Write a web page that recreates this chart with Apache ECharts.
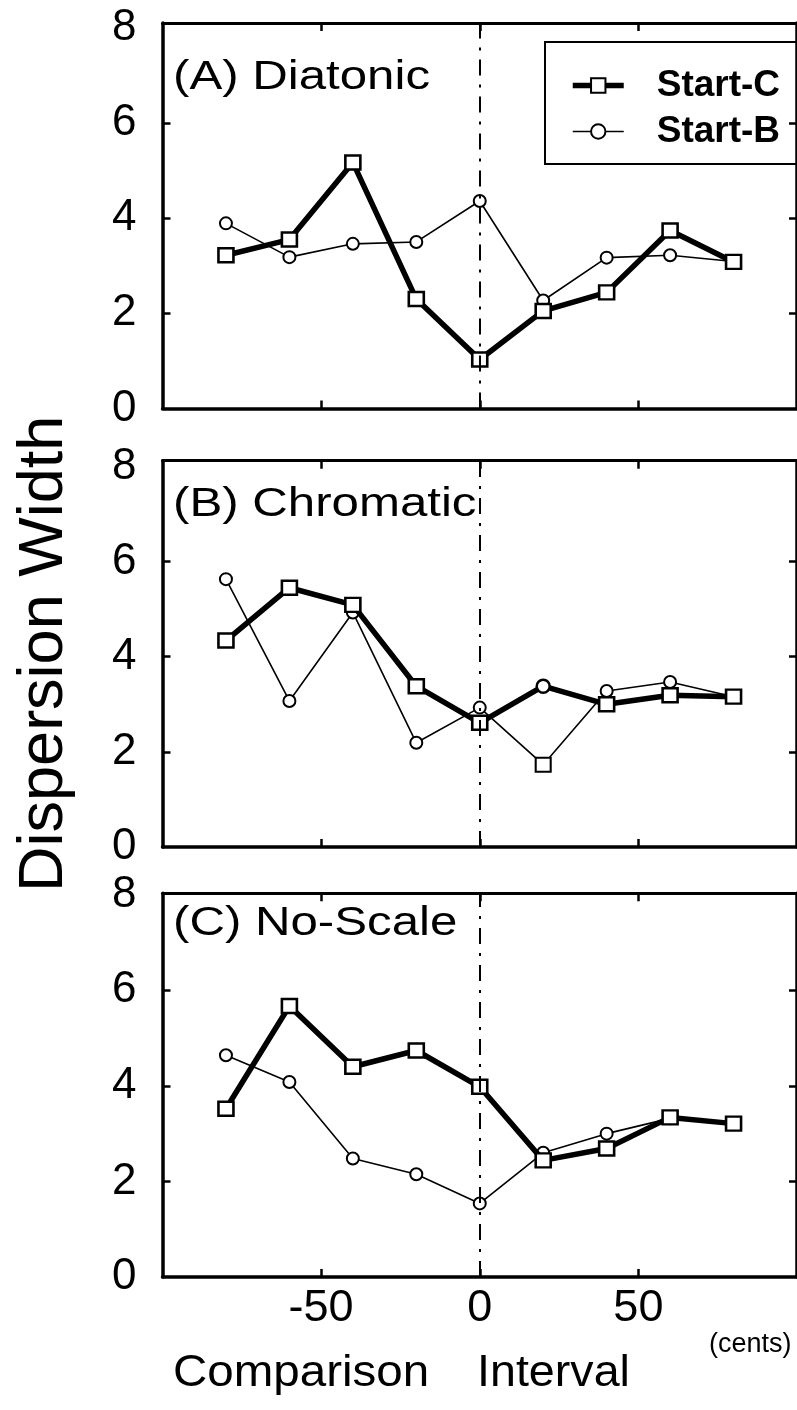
<!DOCTYPE html>
<html>
<head>
  <meta charset="utf-8">
  <title>Dispersion Width by Comparison Interval</title>
  <style>
    body {
      margin: 0;
      background-color: #ffffff;
    }
    #chart {
      width: 797px;
      height: 1410px;
    }
  </style>
</head>
<body>
  <div id="chart"></div>

  <script src="https://cdn.jsdelivr.net/npm/echarts@6.0.0/dist/echarts.min.js"></script>
  <script>
    // comparison interval (cents)
    var xCents = [-80, -60, -40, -20, 0, 20, 40, 60, 80];
    var xTicks = [-50, 0, 50];
    var yLabels = [0, 2, 4, 6, 8];
    var yTicks = [2, 4, 6];

    // dispersion width
    var diatonicC  = [3.22, 3.55, 5.17, 2.30, 1.03, 2.05, 2.44, 3.74, 3.08];
    var diatonicB  = [3.89, 3.18, 3.46, 3.50, 4.36, 2.27, 3.17, 3.22, 3.09];
    var chromaticC = [4.34, 5.45, 5.09, 3.38, 2.61, 3.38, 3.00, 3.19, 3.16];
    var chromaticB = [5.63, 3.07, 4.93, 2.19, 2.93, 1.73, 3.28, 3.47, 3.16];
    var noScaleC   = [3.52, 5.67, 4.40, 4.74, 3.98, 2.44, 2.69, 3.34, 3.21];
    var noScaleB   = [4.64, 4.08, 2.48, 2.15, 1.54, 2.60, 3.00, 3.32, 3.21];

    var panelTitles = ['(A) Diatonic', '(B) Chromatic', '(C) No-Scale'];

    var FONT = '"Liberation Sans", Arial, Helvetica, sans-serif';

    // layout of the three stacked panels
    var panels = [
      { c: diatonicC,  b: diatonicB,  top: 23,    height: 385.5, yMax: 8.1,  titleY: 78 },
      { c: chromaticC, b: chromaticB, top: 460.7, height: 386.3, yMax: 8.12, titleY: 505 },
      { c: noScaleC,   b: noScaleB,   top: 893.3, height: 383.7, yMax: 8.03, titleY: 924 }
    ];

    var grids = [], xAxes = [], yAxes = [], series = [], graphics = [];

    panels.forEach(function (p, i) {
      grids.push({ left: 162.5, right: -5.5, top: p.top, height: p.height });

      // bottom and top frame
      xAxes.push({
        gridIndex: i, type: 'value', min: -100, max: 100, interval: 50, position: 'bottom',
        axisLine: { onZero: false, lineStyle: { color: '#000', width: 3.5 } },
        axisTick: { inside: true, length: 8, customValues: xTicks, lineStyle: { color: '#000', width: 2.5 } },
        axisLabel: {
          show: i === 2, customValues: xTicks, margin: 9,
          color: '#000', fontSize: 45, fontFamily: FONT
        },
        splitLine: { show: false }
      });
      xAxes.push({
        gridIndex: i, type: 'value', min: -100, max: 100, interval: 50, position: 'top',
        axisLine: { onZero: false, lineStyle: { color: '#000', width: 3 } },
        axisTick: { inside: true, length: 8, customValues: xTicks, lineStyle: { color: '#000', width: 2.5 } },
        axisLabel: { show: false },
        splitLine: { show: false }
      });

      // left and right frame
      var yLeft = {
        gridIndex: i, type: 'value', min: 0, max: p.yMax, interval: 2, position: 'left',
        axisLine: { show: true, onZero: false, lineStyle: { color: '#000', width: 3.5 } },
        axisTick: { show: true, inside: true, length: 8, customValues: yTicks, lineStyle: { color: '#000', width: 2.5 } },
        axisLabel: { customValues: yLabels, margin: 26, color: '#000', fontSize: 44, fontFamily: FONT },
        splitLine: { show: false }
      };
      if (i === 1) {
        yLeft.name = 'Dispersion Width';
        yLeft.nameLocation = 'middle';
        yLeft.nameGap = 86;
        yLeft.nameTextStyle = { color: '#000', fontSize: 63, fontFamily: FONT };
      }
      yAxes.push(yLeft);
      yAxes.push({
        gridIndex: i, type: 'value', min: 0, max: p.yMax, interval: 2, position: 'right',
        axisLine: { show: true, onZero: false, lineStyle: { color: '#000', width: 3.5 } },
        axisTick: { show: true, inside: true, length: 8, customValues: yTicks, lineStyle: { color: '#000', width: 2.5 } },
        axisLabel: { show: false },
        splitLine: { show: false }
      });

      var dataB = xCents.map(function (x, k) { return [x, p.b[k]]; });
      var dataC = xCents.map(function (x, k) { return [x, p.c[k]]; });
      // in the chromatic panel the original figure swaps the markers at +20 cents
      if (i === 1) {
        var k20 = xCents.indexOf(20);
        dataC[k20] = { value: dataC[k20], symbol: 'circle', symbolSize: 13 };
        dataB[k20] = { value: dataB[k20], symbol: 'rect', symbolSize: [15, 14] };
      }

      series.push({
        name: 'Start-B', type: 'line', xAxisIndex: i * 2, yAxisIndex: i * 2,
        data: dataB, symbol: 'circle', symbolSize: 12, showAllSymbol: true, z: 2,
        lineStyle: { color: '#000', width: 1.6 },
        itemStyle: { color: '#fff', borderColor: '#000', borderWidth: 2 },
        markLine: {
          silent: true, symbol: 'none', label: { show: false },
          lineStyle: { color: '#000', width: 2, type: [16, 9, 3, 9] },
          data: [{ xAxis: 0 }]
        }
      });
      series.push({
        name: 'Start-C', type: 'line', xAxisIndex: i * 2, yAxisIndex: i * 2,
        data: dataC, symbol: 'rect', symbolSize: [15, 14], showAllSymbol: true, z: 3,
        lineStyle: { color: '#000', width: 5.5 },
        itemStyle: { color: '#fff', borderColor: '#000', borderWidth: 2.5 }
      });

      graphics.push({
        type: 'text', x: 173, y: p.titleY, scaleX: 1.2,
        style: {
          text: panelTitles[i], x: 0, y: 0, fill: '#000',
          font: '41px ' + FONT, verticalAlign: 'middle'
        }
      });
    });

    // x axis title, split like the original
    graphics.push({
      type: 'text', x: 173, y: 1374, scaleX: 1.08,
      style: { text: 'Comparison', x: 0, y: 0, fill: '#000', font: '44px ' + FONT, verticalAlign: 'middle' }
    });
    graphics.push({
      type: 'text', x: 477, y: 1374, scaleX: 1.06,
      style: { text: 'Interval', x: 0, y: 0, fill: '#000', font: '44px ' + FONT, verticalAlign: 'middle' }
    });
    graphics.push({
      type: 'text', x: 709, y: 1345,
      style: { text: '(cents)', x: 0, y: 0, fill: '#000', font: '27px ' + FONT, verticalAlign: 'middle' }
    });

    var option = {
      animation: false,
      backgroundColor: '#fff',
      grid: grids,
      xAxis: xAxes,
      yAxis: yAxes,
      legend: {
        data: [
          { name: 'Start-C', lineStyle: { width: 5.5, color: '#000' } },
          { name: 'Start-B', lineStyle: { width: 1.6, color: '#000' } }
        ],
        orient: 'vertical',
        left: 545,
        top: 42,
        padding: [25, 18, 14, 25],
        itemWidth: 51,
        itemHeight: 18,
        itemGap: 9,
        borderColor: '#000',
        borderWidth: 2,
        textStyle: {
          color: '#000', fontSize: 37, fontWeight: 'bold', fontFamily: FONT,
          padding: [0, 0, 0, 28]
        }
      },
      graphic: graphics,
      series: series
    };

    var chart = echarts.init(document.getElementById('chart'));
    chart.setOption(option);
  </script>
</body>
</html>
